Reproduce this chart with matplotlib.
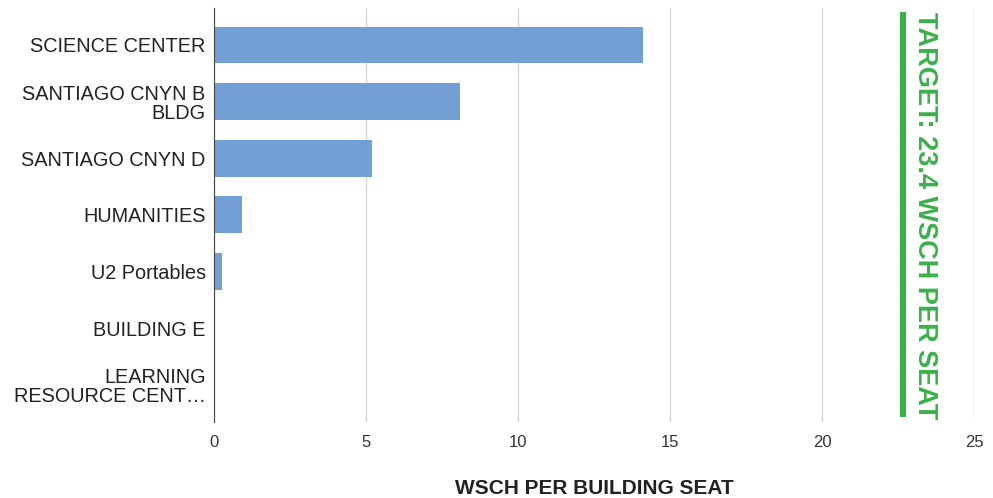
import matplotlib
matplotlib.use("Agg")
import matplotlib.pyplot as plt

buildings = ["SCIENCE CENTER", "SANTIAGO CNYN B\nBLDG", "SANTIAGO CNYN D",
             "HUMANITIES", "U2 Portables", "BUILDING E",
             "LEARNING\nRESOURCE CENT\u2026"]
wsch_per_seat = [14.1, 8.1, 5.2, 0.92, 0.27, 0.0, 0.0]
x_ticks = [0, 5, 10, 15, 20, 25]
target_label = "TARGET: 23.4 WSCH PER SEAT"
target_pos = 22.65  # where the marker line sits in the picture

plt.rcParams['font.family'] = ['Liberation Sans', 'DejaVu Sans']

fig = plt.figure(figsize=(9.93, 4.98), dpi=100)
ax = fig.add_axes([0.2155, 0.1526, 0.7654, 0.8314])

y = list(range(len(buildings)))
ax.barh(y, wsch_per_seat, height=0.65, color='#729fd4', zorder=3)
ax.set_ylim(6.66, -0.654)
ax.set_xlim(0, 25)
ax.set_yticks(y)
ax.set_yticklabels(buildings, fontsize=14.3, color='#222222', linespacing=1.05)
ax.set_xticks(x_ticks)
ax.set_xticklabels([str(t) for t in x_ticks], fontsize=12, color='#333333')
ax.tick_params(axis='both', length=0)
ax.tick_params(axis='x', pad=9)
ax.tick_params(axis='y', pad=6)

ax.grid(axis='x', color='#d9d9d9', linewidth=1, zorder=0)
for s in ['top', 'right', 'bottom']:
    ax.spines[s].set_visible(False)
ax.spines['left'].set_color('#444444')
ax.spines['left'].set_zorder(4)

ax.set_xlabel("WSCH PER BUILDING SEAT", fontsize=15, fontweight='bold',
              color='#222222', labelpad=21)

# target marker
ax.plot([target_pos, target_pos], [-0.59, 6.58], color='#3cb04a',
        linewidth=4.5, solid_capstyle='butt', zorder=5)
ax.text(target_pos + 0.3, -0.58, target_label, rotation=-90, ha='left', va='top',
        fontsize=19.5, fontweight='bold', color='#3cb04a', zorder=5)

fig.savefig("out.png", dpi=100)
